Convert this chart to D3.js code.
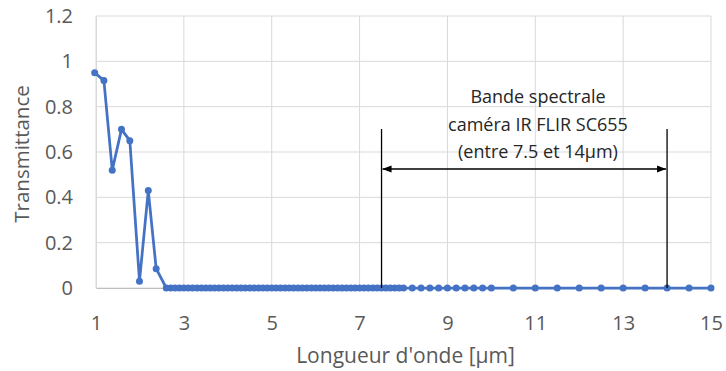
<!DOCTYPE html>
<html><head><meta charset="utf-8">
<script src="https://cdn.jsdelivr.net/npm/d3@7"></script>
<style>body{margin:0;background:#fff}svg{display:block}</style>
</head><body>
<svg id="c" width="726" height="371"></svg>
<script>
// Wavelength (µm) and transmittance
const wavelength = [0.97,1.18,1.37,1.58,1.77,1.99,2.19,2.37,
 2.6,2.7,2.8,2.9,3.0,3.1,3.2,3.3,3.4,3.5,3.6,3.7,3.8,3.9,4.0,4.1,4.2,4.3,4.4,4.5,4.6,4.7,4.8,4.9,
 5.0,5.1,5.2,5.3,5.4,5.5,5.6,5.7,5.8,5.9,6.0,6.1,6.2,6.3,6.4,6.5,6.6,6.7,6.8,6.9,7.0,7.1,7.2,7.3,7.4,
 7.5,7.6,7.7,7.8,7.9,8.0,
 8.2,8.4,8.6,8.8,9.0,9.2,9.4,9.6,9.8,10.0,
 10.5,11.0,11.5,12.0,12.5,13.0,13.5,14.0,14.5,15.0];
const transmittance = [0.95,0.915,0.52,0.70,0.65,0.03,0.43,0.085,
 0,0,0,0,0,0,0,0,0,0,0,0,0,0,0,0,0,0,0,0,0,0,0,0,
 0,0,0,0,0,0,0,0,0,0,0,0,0,0,0,0,0,0,0,0,0,0,0,0,0,
 0,0,0,0,0,0,
 0,0,0,0,0,0,0,0,0,0,
 0,0,0,0,0,0,0,0,0,0];
const xTicks = [1,3,5,7,9,11,13,15];
const yTicks = [0,0.2,0.4,0.6,0.8,1,1.2];
const bandStart = 7.5, bandEnd = 14;
const bandLabel = ["Bande spectrale","caméra IR FLIR SC655","(entre 7.5 et 14µm)"];

const svg = d3.select("#c");
const m = {l:96, r:15, t:16, b:83};
const W = 726, H = 371;
const x = d3.scaleLinear().domain([1,15]).range([m.l, W-m.r]);
const y = d3.scaleLinear().domain([0,1.2]).range([H-m.b, m.t]);
const font = "'Open Sans', sans-serif";
const grey = "#595959";

// gridlines
svg.append("g").selectAll("line").data(yTicks).join("line")
  .attr("x1", x(1)).attr("x2", x(15)).attr("y1", d=>y(d)).attr("y2", d=>y(d))
  .attr("stroke", "#d9d9d9").attr("stroke-width", 1);
svg.append("g").selectAll("line").data(xTicks).join("line")
  .attr("y1", y(0)).attr("y2", y(1.2)).attr("x1", d=>x(d)).attr("x2", d=>x(d))
  .attr("stroke", "#d9d9d9").attr("stroke-width", 1);

// axes
const xAxis = d3.axisBottom(x).tickValues(xTicks).tickFormat(d3.format("d")).tickSize(0).tickPadding(24);
const gx = svg.append("g").attr("transform", `translate(0,${y(0)})`).call(xAxis);
gx.select(".domain").attr("stroke", "#bfbfbf");
gx.selectAll("text").attr("font-family", font).attr("font-size", 20).attr("fill", grey).attr("dy", null).attr("y", 42);

const yAxis = d3.axisLeft(y).tickValues(yTicks).tickFormat(d => d3.format("")(d)).tickSize(0).tickPadding(23);
const gy = svg.append("g").attr("transform", `translate(${x(1)},0)`).call(yAxis);
gy.select(".domain").attr("stroke", "#d9d9d9");
gy.selectAll("text").attr("font-family", font).attr("font-size", 20).attr("fill", grey);

// axis titles
svg.append("text").attr("x", (x(1)+x(15))/2 + 2).attr("y", 363).attr("text-anchor","middle")
  .attr("font-family", font).attr("font-size", 21).attr("fill", grey).text("Longueur d'onde [µm]");
svg.append("text").attr("transform", `translate(29,${(y(0)+y(1.2))/2 + 2}) rotate(-90)`).attr("text-anchor","middle")
  .attr("font-family", font).attr("font-size", 20.5).attr("fill", grey).text("Transmittance");

// series
const pts = wavelength.map((w,i)=>[w, transmittance[i]]);
svg.append("path").datum(pts)
  .attr("d", d3.line().x(d=>x(d[0])).y(d=>y(d[1])))
  .attr("fill","none").attr("stroke","#4472C4").attr("stroke-width",2.75).attr("stroke-linejoin","round");
svg.append("g").selectAll("circle").data(pts).join("circle")
  .attr("cx", d=>x(d[0])).attr("cy", d=>y(d[1])).attr("r", 3.5).attr("fill","#4472C4");

// annotation
const defs = svg.append("defs");
defs.append("marker").attr("id","ah").attr("viewBox","0 0 10 10").attr("refX",10).attr("refY",5)
  .attr("markerWidth",9).attr("markerHeight",9).attr("markerUnits","userSpaceOnUse").attr("orient","auto-start-reverse")
  .append("path").attr("d","M0,1 L10,5 L0,9 Z").attr("fill","#000");
[bandStart, bandEnd].forEach(v=>{
  svg.append("line").attr("x1", x(v)).attr("x2", x(v)).attr("y1", 129).attr("y2", y(0))
    .attr("stroke","#000").attr("stroke-width",1.3);
});
svg.append("line").attr("x1", x(bandStart)+1).attr("x2", x(bandEnd)-1).attr("y1", 169).attr("y2", 169)
  .attr("stroke","#000").attr("stroke-width",1.3)
  .attr("marker-start","url(#ah)").attr("marker-end","url(#ah)");
const tx = 538;
bandLabel.forEach((t,i)=>{
  svg.append("text").attr("x", tx).attr("y", 103 + i*27.5).attr("text-anchor","middle")
    .attr("font-family", font).attr("font-size", 18).attr("fill","#262626").text(t);
});
</script>
</body></html>
